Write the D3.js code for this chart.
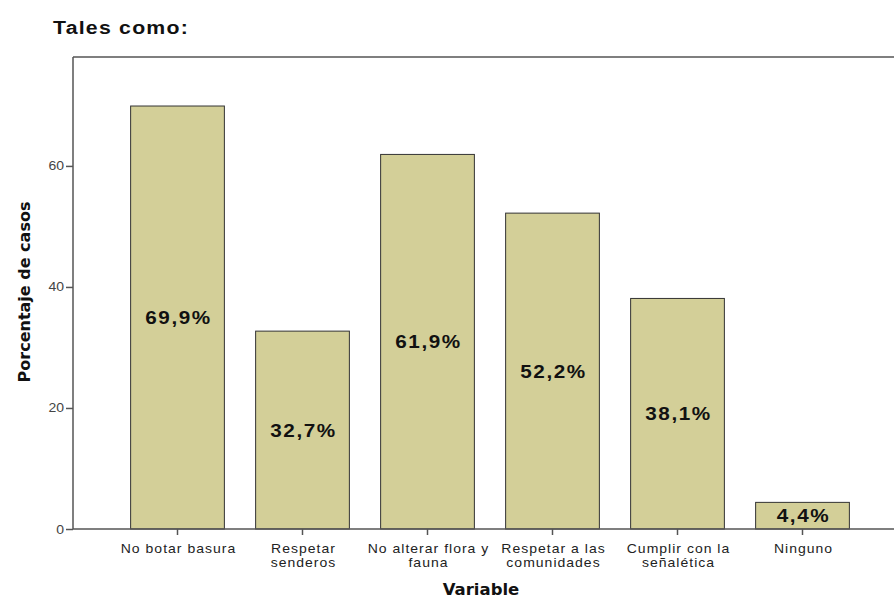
<!DOCTYPE html>
<html>
<head>
<meta charset="utf-8">
<script src="https://cdn.jsdelivr.net/npm/d3@7"></script>
<style>
  body { margin: 0; background: #fff; }
  svg { display: block; font-family: "Liberation Sans", Arial, sans-serif; }
</style>
</head>
<body>
<svg id="chart" width="894" height="600"></svg>
<script>
// datos del gráfico
const categories = [
    ["No botar basura"],
    ["Respetar", "senderos"],
    ["No alterar flora y", "fauna"],
    ["Respetar a las", "comunidades"],
    ["Cumplir con la", "señalética"],
    ["Ninguno"]
];
const values = [69.9, 32.7, 61.9, 52.2, 38.1, 4.4];
const valueLabels = ["69,9%", "32,7%", "61,9%", "52,2%", "38,1%", "4,4%"];
const yTicks = [0, 20, 40, 60];

const svg = d3.select("#chart");
const plot = { left: 73, top: 57, right: 900, bottom: 529 };

const x = d3.scaleBand()
    .domain(d3.range(values.length))
    .range([115, 865])
    .paddingInner(0.25)
    .paddingOuter(0.125);

const y = d3.scaleLinear()
    .domain([0, 78])
    .range([plot.bottom, plot.top]);

// título (texto algo ensanchado, como en la exportación original)
svg.append("text")
    .attr("transform", "translate(53,34) scale(1.12,1)")
    .style("font-size", "19px").style("font-weight", "bold")
    .style("letter-spacing", "1.1px")
    .attr("fill", "#111")
    .text("Tales como:");

// marco superior
svg.append("line")
    .attr("x1", plot.left).attr("x2", plot.right)
    .attr("y1", plot.top).attr("y2", plot.top)
    .attr("stroke", "#555").attr("stroke-width", 1.5);

// barras
svg.append("g").selectAll("rect")
    .data(values)
    .enter().append("rect")
    .attr("x", (d, i) => x(i))
    .attr("width", x.bandwidth())
    .attr("y", d => y(d))
    .attr("height", d => plot.bottom - y(d))
    .attr("fill", "#d3cf98")
    .attr("stroke", "#333")
    .attr("stroke-width", 1);

// etiquetas de valores
svg.append("g").selectAll("text")
    .data(values)
    .enter().append("text")
    .attr("transform", (d, i) =>
        `translate(${x(i) + x.bandwidth() / 2 + 1},${(y(d) + plot.bottom) / 2}) scale(1.15,1)`)
    .attr("dy", "0.36em")
    .attr("text-anchor", "middle")
    .style("font-size", "18px").style("font-weight", "bold")
    .style("letter-spacing", "1.4px")
    .attr("fill", "#111")
    .text((d, i) => valueLabels[i]);

// eje Y
const yAxis = svg.append("g")
    .attr("transform", `translate(${plot.left},0)`)
    .call(d3.axisLeft(y).tickValues(yTicks).tickSize(7).tickSizeOuter(0));
yAxis.select(".domain").attr("d", `M0,${plot.top}V${plot.bottom}`)
    .attr("stroke", "#555").attr("stroke-width", 1.5);
yAxis.selectAll(".tick line").attr("stroke", "#555").attr("stroke-width", 1.5);
yAxis.selectAll(".tick text")
    .style("font-size", "12.5px").style("font-family", "Liberation Sans, Arial, sans-serif")
    .attr("transform", "translate(-9,0) scale(1.12,1)")
    .attr("x", 0)
    .attr("fill", "#444");

// eje X
const xAxis = svg.append("g")
    .attr("transform", `translate(0,${plot.bottom})`)
    .call(d3.axisBottom(x).tickSize(6).tickSizeOuter(0).tickFormat(""));
xAxis.select(".domain").attr("d", `M${plot.left},0H${plot.right}`)
    .attr("stroke", "#555").attr("stroke-width", 1.5);
xAxis.selectAll(".tick line").attr("stroke", "#555").attr("stroke-width", 1.5);
xAxis.selectAll(".tick").each(function (d) {
    const t = d3.select(this).append("text")
        .attr("text-anchor", "middle")
        .attr("transform", "translate(1,0) scale(1.12,1)")
        .attr("fill", "#222")
        .style("font-size", "12.5px")
        .style("letter-spacing", "0.9px");
    categories[d].forEach((line, k) => {
        t.append("tspan").attr("x", 0).attr("y", 24 + k * 14).text(line);
    });
});

// títulos de ejes
svg.append("text")
    .attr("x", 481).attr("y", 595)
    .attr("text-anchor", "middle")
    .style("font-family", "DejaVu Sans, sans-serif")
    .style("font-size", "16.5px").style("font-weight", "bold")
    .attr("fill", "#111")
    .text("Variable");

svg.append("text")
    .attr("transform", "translate(30,292) rotate(-90)")
    .attr("text-anchor", "middle")
    .style("font-family", "DejaVu Sans, sans-serif")
    .style("font-size", "16px").style("font-weight", "bold")
    .attr("fill", "#111")
    .text("Porcentaje de casos");
</script>
</body>
</html>
